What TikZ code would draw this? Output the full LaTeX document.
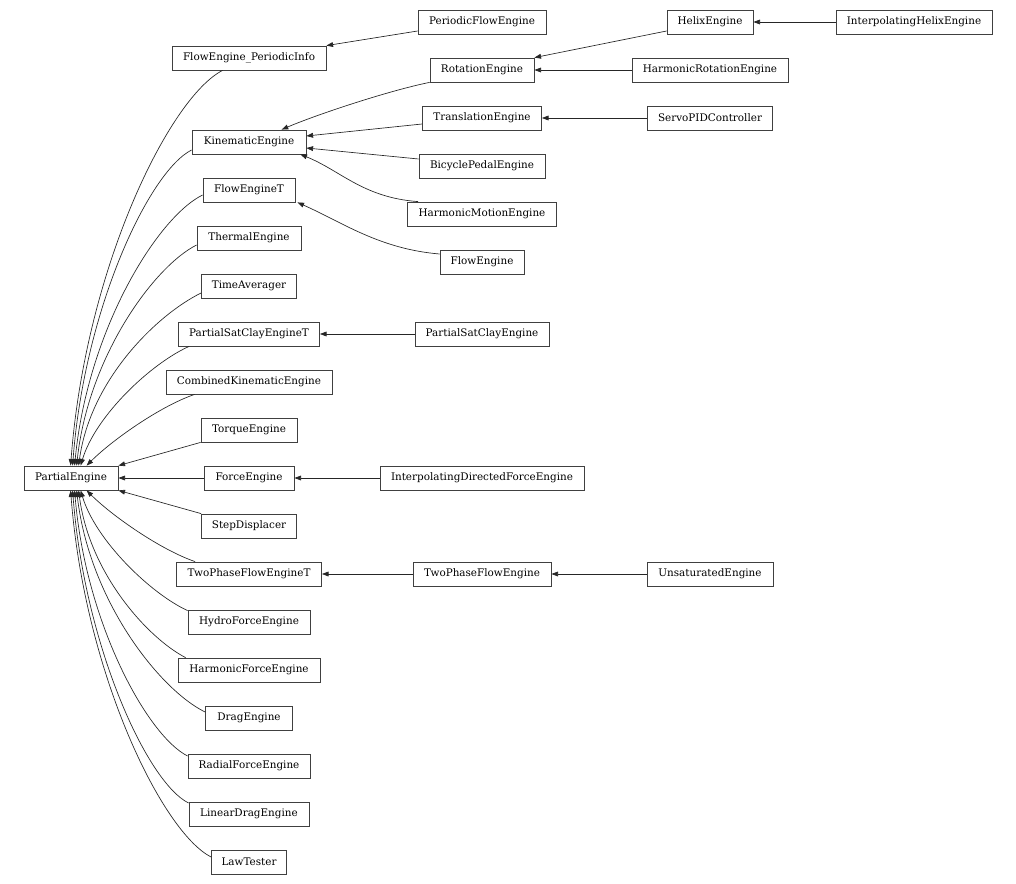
\documentclass[tikz,border=0pt]{standalone}
\usepackage{fontspec}
\setmainfont{DejaVu Serif}
\usetikzlibrary{arrows.meta,calc}
\tikzset{
  box/.style={draw=black!75, line width=0.6pt, inner sep=0pt, minimum height=18pt, font=\fontsize{7.8}{9}\selectfont, text=black},
  arr/.style={draw=black!85, line width=0.5pt, -{Triangle[length=5pt,width=3.6pt]}},
}
\begin{document}
\begin{tikzpicture}[x=0.75pt,y=-0.75pt]
\useasboundingbox (0,0) rectangle (1016,884);
% column 0
\node[box, minimum width=70.5pt] (pe) at (71,478) {PartialEngine};
% column 1
\node[box, minimum width=115.5pt] (fpi) at (249,58) {FlowEngine\_PeriodicInfo};
\node[box, minimum width=85.5pt] (ke) at (249,142) {KinematicEngine};
\node[box, minimum width=69pt] (fet) at (249,190) {FlowEngineT};
\node[box, minimum width=78pt] (th) at (249,238) {ThermalEngine};
\node[box, minimum width=71.25pt] (ta) at (249,286) {TimeAverager};
\node[box, minimum width=105.75pt] (pscet) at (249,334) {PartialSatClayEngineT};
\node[box, minimum width=124.5pt] (comb) at (249,382) {CombinedKinematicEngine};
\node[box, minimum width=72pt] (tq) at (249,430) {TorqueEngine};
\node[box, minimum width=67.5pt] (fe) at (249,478) {ForceEngine};
\node[box, minimum width=71.25pt] (sd) at (249,526) {StepDisplacer};
\node[box, minimum width=108.75pt] (tpt) at (249,574) {TwoPhaseFlowEngineT};
\node[box, minimum width=91.5pt] (hyd) at (249,622) {HydroForceEngine};
\node[box, minimum width=106.5pt] (hf) at (249,670) {HarmonicForceEngine};
\node[box, minimum width=65.25pt] (drag) at (249,718) {DragEngine};
\node[box, minimum width=91.5pt] (rad) at (249,766) {RadialForceEngine};
\node[box, minimum width=90pt] (ld) at (249,814) {LinearDragEngine};
\node[box, minimum width=56.25pt] (law) at (249,862) {LawTester};
% column 2
\node[box, minimum width=96pt] (pfe) at (482,22) {PeriodicFlowEngine};
\node[box, minimum width=78pt] (rot) at (482,70) {RotationEngine};
\node[box, minimum width=89.25pt] (tr) at (482,118) {TranslationEngine};
\node[box, minimum width=94.5pt] (bic) at (482,166) {BicyclePedalEngine};
\node[box, minimum width=111.75pt] (hm) at (482,214) {HarmonicMotionEngine};
\node[box, minimum width=63pt] (flow) at (482,262) {FlowEngine};
\node[box, minimum width=100.5pt] (psce) at (482,334) {PartialSatClayEngine};
\node[box, minimum width=153pt] (idfe) at (482,478) {InterpolatingDirectedForceEngine};
\node[box, minimum width=103.5pt] (tp) at (482,574) {TwoPhaseFlowEngine};
% column 3
\node[box, minimum width=64.5pt] (helix) at (710,22) {HelixEngine};
\node[box, minimum width=117pt] (hr) at (710,70) {HarmonicRotationEngine};
\node[box, minimum width=93.75pt] (servo) at (710,118) {ServoPIDController};
\node[box, minimum width=94.5pt] (uns) at (710,574) {UnsaturatedEngine};
% column 4
\node[box, minimum width=117pt] (ih) at (914,22) {InterpolatingHelixEngine};

% edges into PartialEngine (top)
\draw[arr] ($(fpi.south west)+(51,0)$) .. controls +(-53,27) and +(15,-198) .. ($(pe.north west)+(47,0)$);
\draw[arr] ($(ke.west)+(0,8)$) .. controls +(-42,21) and +(12,-158) .. ($(pe.north west)+(49,0)$);
\draw[arr] ($(fet.west)+(0,5)$) .. controls +(-45,22) and +(13,-136) .. ($(pe.north west)+(51,0)$);
\draw[arr] ($(th.west)+(0,7)$) .. controls +(-42,21) and +(12,-110) .. ($(pe.north west)+(53,0)$);
\draw[arr] ($(ta.west)+(0,7)$) .. controls +(-43,21) and +(12,-87) .. ($(pe.north west)+(55,0)$);
\draw[arr] ($(pscet.south west)+(11,0)$) .. controls +(-38,17) and +(15,-50) .. ($(pe.north west)+(57,0)$);
\draw[arr] ($(comb.south west)+(29,0)$) .. controls +(-35,12) and +(25,-25) .. ($(pe.north west)+(63,0)$);
\draw[arr] (tq.south west) -- (pe.north east);
\draw[arr] (fe.west) -- (pe.east);
\draw[arr] (sd.north west) -- (pe.south east);
% edges into PartialEngine (bottom)
\draw[arr] ($(tpt.north west)+(19,0)$) .. controls +(-35,-12) and +(25,25) .. ($(pe.south west)+(63,0)$);
\draw[arr] ($(hyd.north west)+(0,1)$) .. controls +(-37,-17) and +(15,50) .. ($(pe.south west)+(57,0)$);
\draw[arr] ($(hf.north west)+(8,0)$) .. controls +(-37,-19) and +(11,84) .. ($(pe.south west)+(55,0)$);
\draw[arr] ($(drag.west)+(0,-6)$) .. controls +(-45,-22) and +(13,111) .. ($(pe.south west)+(53,0)$);
\draw[arr] ($(rad.west)+(0,-10)$) .. controls +(-40,-20) and +(11,133) .. ($(pe.south west)+(51,0)$);
\draw[arr] ($(ld.west)+(0,-11)$) .. controls +(-41,-20) and +(12,156) .. ($(pe.south west)+(49,0)$);
\draw[arr] ($(law.west)+(0,-5)$) .. controls +(-49,-25) and +(14,183) .. ($(pe.south west)+(47,0)$);

% other edges
\draw[arr] ($(pfe.west)+(0,9)$) -- (fpi.north east);
\draw[arr] ($(helix.west)+(0,9)$) -- (rot.north east);
\draw[arr] (hr.west) -- (rot.east);
\draw[arr] (ih.west) -- (helix.east);
\draw[arr] (servo.west) -- (tr.east);
\draw[arr] (psce.west) -- (pscet.east);
\draw[arr] (idfe.west) -- (fe.east);
\draw[arr] (tp.west) -- (tpt.east);
\draw[arr] (uns.west) -- (tp.east);
\draw[arr] (rot.south west) .. controls +(-40,8) and +(35,-15) .. ($(ke.north west)+(90,0)$);
\draw[arr] ($(tr.west)+(0,6)$) -- ($(ke.east)+(0,-6)$);
\draw[arr] ($(bic.west)+(0,-7)$) -- ($(ke.east)+(0,6)$);
\draw[arr] ($(hm.north west)+(11,0)$) .. controls +(-55,-4) and +(40,16) .. ($(ke.south east)+(-6,0)$);
\draw[arr] ($(flow.west)+(0,-8)$) .. controls +(-60,-5) and +(45,20) .. ($(fet.south east)+(2,0)$);
\end{tikzpicture}
\end{document}
